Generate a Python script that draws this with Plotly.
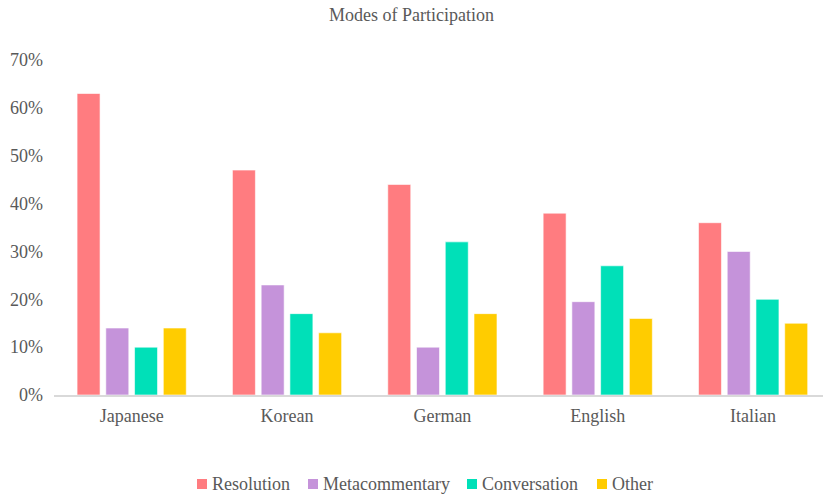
import plotly.graph_objects as go

categories = ["Japanese", "Korean", "German", "English", "Italian"]
resolution = [0.63, 0.47, 0.44, 0.38, 0.36]
metacommentary = [0.14, 0.23, 0.10, 0.195, 0.30]
conversation = [0.10, 0.17, 0.32, 0.27, 0.20]
other = [0.14, 0.13, 0.17, 0.16, 0.15]
y_ticks = [0, 0.1, 0.2, 0.3, 0.4, 0.5, 0.6, 0.7]

series = [
    ("Resolution", resolution, "#FF7C80"),
    ("Metacommentary", metacommentary, "#C593DA"),
    ("Conversation", conversation, "#00E0B8"),
    ("Other", other, "#FFCC00"),
]

font_family = "Liberation Serif, Times New Roman, serif"
gray = "#595959"

W, H = 823, 494
ML, MR, MT, MB = 54, 0, 60, 99
plot_w = W - ML - MR
plot_h = H - MT - MB

fig = go.Figure()
for name, vals, color in series:
    fig.add_trace(go.Bar(
        x=categories, y=vals, name=name, showlegend=False,
        marker=dict(color=color, line=dict(color="rgba(255,255,255,0.6)", width=1)),
    ))

# Compact legend (square swatch close to the label), positioned in pixels
legend_px = [197, 308, 467, 597]   # swatch left edges
legend_cy = 484                    # legend centre line (px from top)
sw = 10                            # swatch size
for (name, _, color), px in zip(series, legend_px):
    x0 = (px - ML) / plot_w
    x1 = (px + sw - ML) / plot_w
    yc = (H - MB - legend_cy) / plot_h
    dy = (sw / 2) / plot_h
    fig.add_shape(type="rect", xref="paper", yref="paper",
                  x0=x0, x1=x1, y0=yc - dy, y1=yc + dy,
                  fillcolor=color, line=dict(width=0))
    fig.add_annotation(xref="paper", yref="paper",
                       x=(px + sw + 3 - ML) / plot_w, y=yc,
                       xanchor="left", yanchor="middle", showarrow=False,
                       text=name, font=dict(family=font_family, size=18, color=gray))

fig.update_layout(
    width=W, height=H,
    margin=dict(l=ML, r=MR, t=MT, b=MB),
    paper_bgcolor="white", plot_bgcolor="white",
    barmode="group", bargap=0.26, bargroupgap=0.2,
    font=dict(family=font_family, color=gray, size=18),
    title=dict(text="Modes of Participation", x=0.5, xanchor="center",
               y=0.971, yanchor="middle",
               font=dict(family=font_family, size=18, color=gray)),
    xaxis=dict(range=[-0.5, 4.45], showgrid=False, showline=True,
               linecolor="#D9D9D9", linewidth=1.5, ticks="",
               ticklabelstandoff=4,
               tickfont=dict(family=font_family, size=18, color=gray)),
    yaxis=dict(range=[0, 0.7], tickvals=y_ticks, tickformat=".0%",
               showgrid=False, zeroline=False, showline=False,
               ticks="", ticklabelstandoff=10,
               tickfont=dict(family=font_family, size=18, color=gray)),
    showlegend=False,
)

fig.write_html("out.html", config={"displayModeBar": False},
               post_script="document.body.style.margin='0';")
